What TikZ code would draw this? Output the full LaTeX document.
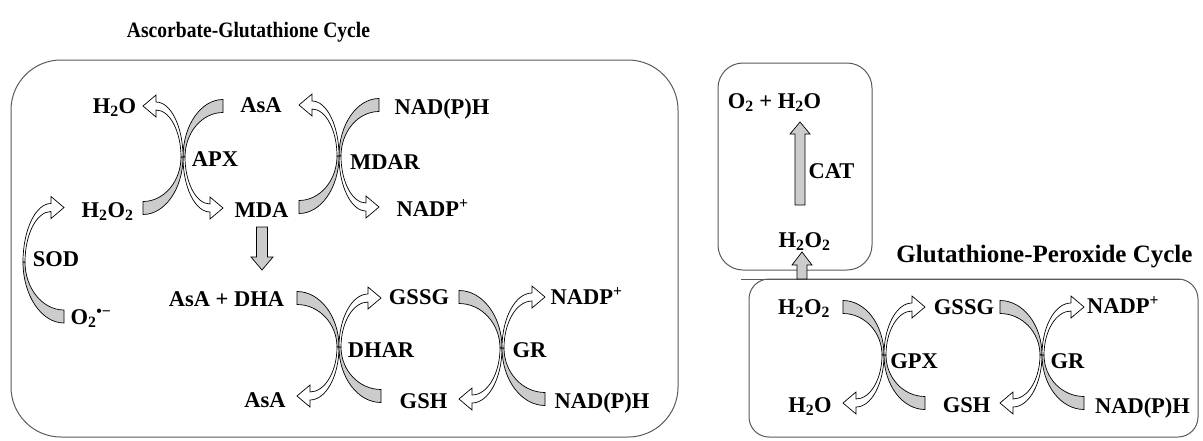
\documentclass[tikz,border=0pt]{standalone}
\usepackage{graphicx}
\usepackage{fontspec}
\setmainfont{Liberation Serif}
\newcommand{\lblfont}{\fontsize{22.5}{24}\selectfont\bfseries}
\tikzset{
  lbl/.style={font=\lblfont, inner sep=0pt, anchor=base},
  ttlA/.style={font=\fontsize{22}{24}\selectfont\bfseries, inner sep=0pt, anchor=base},
  ttlB/.style={font=\fontsize{25}{27}\selectfont\bfseries, inner sep=0pt, anchor=base},
  boxline/.style={draw=black!65, line width=1pt},
  grayband/.style={fill=gray!40, draw=black, line width=0.7pt},
  whitearrow/.style={fill=white, draw=black, line width=0.7pt},
  blockarrow/.style={fill=gray!40, draw=black, line width=0.7pt},
}
% gray band quadrant: cx cy sx sy a b
\newcommand{\bandq}[6]{%
  \draw[grayband] (#1,#2) .. controls ({#1},{#2+(#4)*0.55*(#6)}) and ({#1+(#3)*(#5)*0.45},{#2+(#4)*(#6)}) .. ({#1+(#3)*(#5)},{#2+(#4)*(#6)})
   -- ({#1+(#3)*(#5)},{#2+(#4)*((#6)-13)})
   .. controls ({#1+(#3)*(2+0.45*((#5)-2))},{#2+(#4)*((#6)-13)}) and ({#1+(#3)*2},{#2+(#4)*0.55*((#6)-13)}) .. ({#1+(#3)*2},{#2}) -- cycle;}
% white arrow quadrant: cx cy sx sy a b
\newcommand{\arrowq}[6]{%
  \pgfmathsetmacro\qAo{#5-13}%
  \pgfmathsetmacro\qBo{#6-2.5}%
  \pgfmathsetmacro\qBi{#6-10.5}%
  \pgfmathsetmacro\qMd{#6-6.5}%
  \draw[whitearrow] (#1,#2) .. controls ({#1},{#2+(#4)*0.55*\qBo}) and ({#1+(#3)*0.45*\qAo},{#2+(#4)*\qBo}) .. ({#1+(#3)*\qAo},{#2+(#4)*\qBo})
   -- ({#1+(#3)*\qAo},{#2+(#4)*(\qMd+11)})
   -- ({#1+(#3)*(#5)},{#2+(#4)*\qMd})
   -- ({#1+(#3)*\qAo},{#2+(#4)*(\qMd-11)})
   -- ({#1+(#3)*\qAo},{#2+(#4)*\qBi})
   .. controls ({#1+(#3)*(2+0.45*(\qAo-2))},{#2+(#4)*\qBi}) and ({#1+(#3)*2},{#2+(#4)*0.55*\qBi}) .. ({#1+(#3)*2},{#2}) -- cycle;}
% X type A: gray upper-right & lower-left
\newcommand{\enzA}[4]{%
  \bandq{#1}{#2}{1}{-1}{#3}{#4}\arrowq{#1}{#2}{1}{1}{#3}{#4}%
  \bandq{#1}{#2}{-1}{1}{#3}{#4}\arrowq{#1}{#2}{-1}{-1}{#3}{#4}}
% X type B: gray upper-left & lower-right
\newcommand{\enzB}[4]{%
  \bandq{#1}{#2}{-1}{-1}{#3}{#4}\arrowq{#1}{#2}{-1}{1}{#3}{#4}%
  \bandq{#1}{#2}{1}{1}{#3}{#4}\arrowq{#1}{#2}{1}{-1}{#3}{#4}}
\begin{document}
\begin{tikzpicture}[x=1pt,y=-1pt]
\useasboundingbox (0,0) rectangle (1203,440);
% boxes
\draw[boxline, rounded corners=50pt] (11,60) rectangle (678,437);
\draw[boxline, rounded corners=25pt] (718,63) rectangle (872,270);
\draw[boxline, rounded corners=20pt] (749,279) rectangle (1198,437);
\coordinate (lineL) at (741,279);
\coordinate (lineR) at (1180,279);
\draw[boxline] (lineL) -- (lineR);
% titles
\node[ttlA] (t1) at (248.5,37) {\scalebox{0.89}[1]{Ascorbate-Glutathione Cycle}};
\node[ttlB] (t2) at (1044.5,262) {Glutathione-Peroxide Cycle};
% enzyme crossings
\enzA{183}{157}{40}{57.5}
\enzA{339}{156}{40}{57.5}
\enzB{339}{347}{42}{55.5}
\enzB{502}{348}{43}{57.5}
\enzB{884}{355}{41}{54.5}
\enzB{1042}{355}{42}{54.5}
% SOD
\bandq{23}{262}{1}{1}{41}{61}
\arrowq{23}{262}{1}{-1}{41}{61}
% block arrow MDA -> AsA + DHA
\draw[blockarrow] (256.5,227) -- (267.5,227) -- (267.5,257) -- (273,257) -- (262,270) -- (251,257) -- (256.5,257) -- cycle;
% CAT arrow
\draw[blockarrow] (795,205) -- (805,205) -- (805,134) -- (810,134) -- (800,122) -- (790,134) -- (795,134) -- cycle;
% short arrow into CAT box
\draw[blockarrow] (797,279) -- (807,279) -- (807,265) -- (812,265) -- (802,252) -- (792,265) -- (797,265) -- cycle;
% labels, box 1
\node[lbl] (h2oA) at (114.5,113) {H\textsubscript{2}O};
\node[lbl] (asaA) at (261,112) {AsA};
\node[lbl] (nadphA) at (442,114) {NAD(P)H};
\node[lbl] (apx) at (215,166) {APX};
\node[lbl] (mdar) at (385,169) {MDAR};
\node[lbl] (h2o2A) at (107.5,217) {H\textsubscript{2}O\textsubscript{2}};
\node[lbl] (mda) at (261.5,217) {MDA};
\node[lbl] (nadpA) at (432.5,216) {NADP\textsuperscript{+}};
\node[lbl] (sod) at (56,266) {SOD};
\node[lbl] (o2) at (91,324) {O\textsubscript{2}\textsuperscript{•−}};
\node[lbl] (asadha) at (226.5,306) {AsA + DHA};
\node[lbl] (gssgA) at (419,304) {GSSG};
\node[lbl] (nadpB) at (586.5,304) {NADP\textsuperscript{+}};
\node[lbl] (dhar) at (381,357) {DHAR};
\node[lbl] (grA) at (529.5,357) {GR};
\node[lbl] (asaB) at (265,407) {AsA};
\node[lbl] (gshA) at (423.5,408) {GSH};
\node[lbl] (nadphB) at (602,408) {NAD(P)H};
% CAT box
\node[lbl] (o2h2o) at (774.5,108) {O\textsubscript{2} + H\textsubscript{2}O};
\node[lbl] (cat) at (831.5,178) {CAT};
\node[lbl] (h2o2B) at (804.5,247) {H\textsubscript{2}O\textsubscript{2}};
% GP box
\node[lbl] (h2o2C) at (804,314) {H\textsubscript{2}O\textsubscript{2}};
\node[lbl] (gssgB) at (964,314) {GSSG};
\node[lbl] (nadpC) at (1123,313) {NADP\textsuperscript{+}};
\node[lbl] (gpx) at (914,368) {GPX};
\node[lbl] (grB) at (1067.5,368) {GR};
\node[lbl] (h2oB) at (810,412) {H\textsubscript{2}O};
\node[lbl] (gshB) at (966.5,412) {GSH};
\node[lbl] (nadphC) at (1142.5,413) {NAD(P)H};
\end{tikzpicture}
\end{document}
